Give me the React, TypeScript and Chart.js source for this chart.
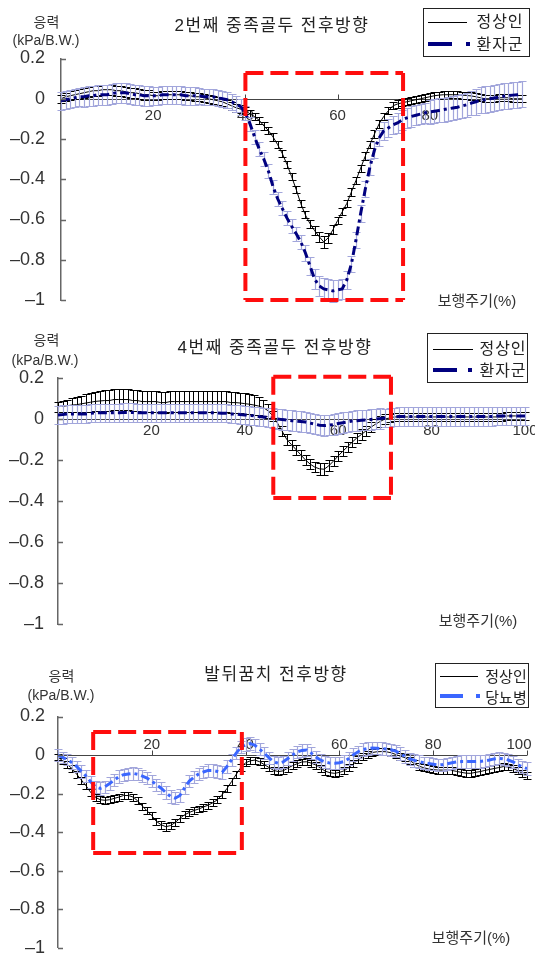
import React, { useEffect, useRef } from 'react';
import { Chart, registerables } from 'chart.js';

Chart.register(...registerables);

const FONT = '"Liberation Sans", "Noto Sans CJK KR", Arial, sans-serif';
const CANVAS_H = 340;

// ---------- shared axis data ----------
const gaitCycle = Array.from({ length: 101 }, (_, i) => i); // 0..100 %
const yTickValues = [-1, -0.8, -0.6, -0.4, -0.2, 0, 0.2];
const yTickLabels = ['–1', '–0.8', '–0.6', '–0.4', '–0.2', '0', '0.2'];
const xTickValues = [20, 40, 60, 80, 100];
const xTickLabels1 = ['20', '40', '60', '80', ''];
const xTickLabels2 = ['20', '40', '60', '80', '100'];
const xTickLabels3 = ['20', '40', '60', '80', '100'];

// ---------- chart 1 : 2번째 중족골두 ----------
const normal1 = [
  0.000, 0.010, 0.015, 0.020, 0.025, 0.030, 0.035, 0.040, 0.040, 0.045,
  0.045, 0.045, 0.040, 0.040, 0.035, 0.030, 0.030, 0.025, 0.020, 0.020,
  0.015, 0.015, 0.020, 0.020, 0.020, 0.020, 0.020, 0.015, 0.015, 0.010,
  0.010, 0.005, 0.000, -0.005, -0.010, -0.015, -0.025, -0.035, -0.045, -0.052,
  -0.060, -0.075, -0.089, -0.107, -0.135, -0.158, -0.190, -0.228, -0.272, -0.325,
  -0.385, -0.450, -0.520, -0.577, -0.620, -0.655, -0.685, -0.712, -0.690, -0.650,
  -0.605, -0.562, -0.520, -0.463, -0.405, -0.345, -0.285, -0.228, -0.175, -0.125,
  -0.088, -0.060, -0.035, -0.026, -0.020, -0.015, -0.010, -0.005, 0.000, 0.005,
  0.010, 0.015, 0.018, 0.020, 0.020, 0.020, 0.020, 0.018, 0.016, 0.014,
  0.010, 0.005, 0.000, 0.000, 0.000, 0.005, 0.005, 0.005, 0.000, 0.000,
  0.000,
];
const normalSd1 = [
  0.020, 0.020, 0.022, 0.022, 0.025, 0.025, 0.025, 0.025, 0.025, 0.025,
  0.025, 0.025, 0.025, 0.025, 0.025, 0.025, 0.025, 0.025, 0.025, 0.025,
  0.020, 0.020, 0.020, 0.020, 0.020, 0.020, 0.020, 0.020, 0.020, 0.020,
  0.020, 0.020, 0.020, 0.020, 0.020, 0.020, 0.020, 0.020, 0.020, 0.020,
  0.018, 0.018, 0.018, 0.018, 0.018, 0.018, 0.018, 0.018, 0.018, 0.018,
  0.018, 0.018, 0.018, 0.018, 0.020, 0.022, 0.025, 0.028, 0.025, 0.022,
  0.018, 0.018, 0.018, 0.018, 0.018, 0.018, 0.018, 0.018, 0.018, 0.018,
  0.018, 0.018, 0.018, 0.018, 0.018, 0.018, 0.018, 0.018, 0.018, 0.018,
  0.018, 0.018, 0.018, 0.018, 0.018, 0.018, 0.018, 0.018, 0.018, 0.018,
  0.018, 0.018, 0.018, 0.018, 0.018, 0.018, 0.018, 0.018, 0.018, 0.018,
  0.018,
];
const patient1 = [
  -0.010, -0.005, 0.000, 0.005, 0.010, 0.010, 0.015, 0.015, 0.020, 0.020,
  0.020, 0.025, 0.030, 0.030, 0.030, 0.025, 0.020, 0.020, 0.015, 0.015,
  0.015, 0.015, 0.020, 0.020, 0.020, 0.020, 0.020, 0.015, 0.015, 0.015,
  0.015, 0.010, 0.010, 0.010, 0.005, 0.000, -0.005, -0.015, -0.025, -0.040,
  -0.070, -0.125, -0.190, -0.250, -0.300, -0.360, -0.437, -0.497, -0.545, -0.592,
  -0.632, -0.670, -0.710, -0.765, -0.830, -0.895, -0.930, -0.945, -0.950, -0.955,
  -0.950, -0.945, -0.900, -0.820, -0.700, -0.570, -0.450, -0.340, -0.255, -0.195,
  -0.160, -0.145, -0.130, -0.120, -0.105, -0.095, -0.088, -0.082, -0.076, -0.070,
  -0.066, -0.062, -0.058, -0.054, -0.050, -0.046, -0.042, -0.036, -0.030, -0.022,
  -0.015, -0.008, -0.004, 0.000, 0.004, 0.008, 0.012, 0.015, 0.018, 0.020,
  0.022,
];
const patientSd1 = [
  0.045, 0.045, 0.045, 0.045, 0.045, 0.050, 0.050, 0.050, 0.050, 0.050,
  0.050, 0.050, 0.050, 0.050, 0.050, 0.050, 0.050, 0.050, 0.050, 0.050,
  0.045, 0.045, 0.045, 0.045, 0.045, 0.045, 0.045, 0.045, 0.045, 0.045,
  0.040, 0.040, 0.040, 0.040, 0.040, 0.040, 0.040, 0.040, 0.040, 0.040,
  0.035, 0.035, 0.035, 0.035, 0.035, 0.035, 0.035, 0.035, 0.035, 0.035,
  0.035, 0.035, 0.035, 0.040, 0.045, 0.050, 0.050, 0.055, 0.055, 0.055,
  0.050, 0.050, 0.045, 0.040, 0.040, 0.040, 0.040, 0.040, 0.040, 0.040,
  0.045, 0.045, 0.045, 0.050, 0.050, 0.050, 0.050, 0.050, 0.050, 0.050,
  0.060, 0.060, 0.060, 0.060, 0.060, 0.060, 0.060, 0.060, 0.060, 0.060,
  0.065, 0.065, 0.065, 0.065, 0.065, 0.065, 0.065, 0.065, 0.065, 0.065,
  0.065,
];
const box1 = [40, 74.2, 0.128, -1.0]; // x from, x to, y top, y bottom

// ---------- chart 2 : 4번째 중족골두 ----------
const normal2 = [
  0.060, 0.062, 0.065, 0.068, 0.070, 0.074, 0.078, 0.082, 0.086, 0.088,
  0.090, 0.090, 0.095, 0.095, 0.095, 0.095, 0.090, 0.090, 0.085, 0.085,
  0.085, 0.085, 0.080, 0.080, 0.085, 0.085, 0.085, 0.085, 0.085, 0.085,
  0.085, 0.085, 0.085, 0.085, 0.085, 0.085, 0.085, 0.080, 0.080, 0.078,
  0.075, 0.072, 0.068, 0.063, 0.055, 0.040, 0.015, -0.020, -0.060, -0.100,
  -0.125, -0.150, -0.175, -0.200, -0.220, -0.235, -0.243, -0.245, -0.228, -0.205,
  -0.180, -0.157, -0.135, -0.113, -0.092, -0.075, -0.057, -0.040, -0.025, -0.012,
  0.000, 0.005, 0.010, 0.010, 0.010, 0.010, 0.010, 0.010, 0.010, 0.010,
  0.010, 0.010, 0.010, 0.010, 0.010, 0.010, 0.010, 0.010, 0.010, 0.010,
  0.010, 0.010, 0.010, 0.010, 0.010, 0.010, 0.015, 0.015, 0.015, 0.015,
  0.015,
];
const normalSd2 = [
  0.025, 0.028, 0.030, 0.033, 0.036, 0.040, 0.043, 0.046, 0.048, 0.050,
  0.050, 0.050, 0.050, 0.050, 0.050, 0.050, 0.050, 0.050, 0.050, 0.050,
  0.050, 0.050, 0.050, 0.050, 0.050, 0.050, 0.050, 0.050, 0.050, 0.050,
  0.050, 0.050, 0.050, 0.050, 0.050, 0.050, 0.050, 0.050, 0.050, 0.050,
  0.050, 0.050, 0.048, 0.045, 0.040, 0.035, 0.025, 0.025, 0.025, 0.025,
  0.025, 0.025, 0.025, 0.025, 0.025, 0.025, 0.028, 0.030, 0.028, 0.025,
  0.025, 0.025, 0.025, 0.025, 0.025, 0.025, 0.025, 0.025, 0.025, 0.025,
  0.022, 0.020, 0.020, 0.020, 0.020, 0.020, 0.020, 0.020, 0.020, 0.020,
  0.020, 0.020, 0.020, 0.020, 0.020, 0.020, 0.020, 0.020, 0.020, 0.020,
  0.020, 0.020, 0.020, 0.020, 0.020, 0.020, 0.020, 0.020, 0.020, 0.020,
  0.020,
];
const patient2 = [
  0.020, 0.022, 0.025, 0.025, 0.025, 0.025, 0.025, 0.028, 0.030, 0.030,
  0.030, 0.030, 0.030, 0.030, 0.032, 0.032, 0.032, 0.030, 0.030, 0.030,
  0.030, 0.030, 0.030, 0.030, 0.030, 0.030, 0.030, 0.030, 0.030, 0.030,
  0.030, 0.030, 0.030, 0.030, 0.030, 0.028, 0.028, 0.025, 0.025, 0.022,
  0.020, 0.018, 0.015, 0.012, 0.010, 0.008, 0.005, 0.000, -0.003, -0.005,
  -0.008, -0.010, -0.012, -0.015, -0.020, -0.025, -0.030, -0.032, -0.030, -0.027,
  -0.022, -0.018, -0.014, -0.010, -0.008, -0.006, -0.004, -0.002, 0.000, 0.002,
  0.005, 0.008, 0.010, 0.012, 0.012, 0.012, 0.012, 0.012, 0.012, 0.012,
  0.012, 0.012, 0.012, 0.012, 0.012, 0.012, 0.012, 0.012, 0.012, 0.012,
  0.012, 0.012, 0.012, 0.012, 0.015, 0.015, 0.015, 0.015, 0.015, 0.015,
  0.015,
];
const patientSd2 = [
  0.045, 0.045, 0.045, 0.045, 0.045, 0.045, 0.045, 0.045, 0.045, 0.045,
  0.045, 0.045, 0.045, 0.045, 0.045, 0.045, 0.045, 0.045, 0.045, 0.045,
  0.045, 0.045, 0.045, 0.045, 0.045, 0.045, 0.045, 0.045, 0.045, 0.045,
  0.045, 0.045, 0.045, 0.045, 0.045, 0.045, 0.045, 0.045, 0.045, 0.045,
  0.045, 0.045, 0.045, 0.045, 0.045, 0.045, 0.050, 0.050, 0.050, 0.050,
  0.050, 0.050, 0.050, 0.050, 0.050, 0.050, 0.050, 0.050, 0.050, 0.050,
  0.050, 0.050, 0.050, 0.050, 0.050, 0.050, 0.050, 0.050, 0.050, 0.050,
  0.045, 0.045, 0.045, 0.045, 0.045, 0.045, 0.045, 0.045, 0.045, 0.045,
  0.045, 0.045, 0.045, 0.045, 0.045, 0.045, 0.045, 0.045, 0.045, 0.045,
  0.045, 0.045, 0.045, 0.045, 0.045, 0.045, 0.045, 0.045, 0.045, 0.045,
  0.045,
];
const box2 = [46.1, 71.3, 0.206, -0.385];

// ---------- chart 3 : 발뒤꿈치 ----------
const normal3 = [
  -0.010, -0.030, -0.050, -0.070, -0.100, -0.130, -0.160, -0.195, -0.220, -0.232,
  -0.235, -0.232, -0.225, -0.218, -0.210, -0.210, -0.218, -0.238, -0.265, -0.290,
  -0.315, -0.345, -0.362, -0.372, -0.366, -0.350, -0.328, -0.310, -0.298, -0.288,
  -0.280, -0.270, -0.260, -0.248, -0.232, -0.205, -0.175, -0.138, -0.100, -0.065,
  -0.040, -0.030, -0.026, -0.035, -0.050, -0.065, -0.080, -0.086, -0.082, -0.068,
  -0.055, -0.045, -0.036, -0.035, -0.042, -0.052, -0.068, -0.084, -0.092, -0.095,
  -0.090, -0.082, -0.065, -0.045, -0.025, -0.008, 0.005, 0.013, 0.017, 0.018,
  0.017, 0.012, 0.003, -0.006, -0.014, -0.028, -0.045, -0.058, -0.066, -0.072,
  -0.076, -0.078, -0.078, -0.078, -0.080, -0.085, -0.090, -0.094, -0.095, -0.090,
  -0.086, -0.080, -0.075, -0.070, -0.065, -0.060, -0.062, -0.070, -0.080, -0.095,
  -0.105,
];
const normalSd3 = [
  0.015, 0.015, 0.018, 0.018, 0.018, 0.018, 0.018, 0.018, 0.018, 0.018,
  0.018, 0.018, 0.018, 0.018, 0.018, 0.018, 0.018, 0.018, 0.018, 0.018,
  0.018, 0.018, 0.020, 0.020, 0.020, 0.020, 0.018, 0.018, 0.018, 0.018,
  0.018, 0.018, 0.018, 0.018, 0.018, 0.018, 0.018, 0.018, 0.018, 0.018,
  0.018, 0.018, 0.018, 0.018, 0.018, 0.018, 0.018, 0.018, 0.018, 0.018,
  0.018, 0.018, 0.018, 0.018, 0.018, 0.018, 0.018, 0.018, 0.018, 0.018,
  0.018, 0.018, 0.018, 0.018, 0.018, 0.018, 0.018, 0.018, 0.018, 0.018,
  0.018, 0.018, 0.018, 0.018, 0.018, 0.018, 0.018, 0.018, 0.018, 0.018,
  0.018, 0.018, 0.018, 0.018, 0.018, 0.018, 0.018, 0.018, 0.018, 0.018,
  0.018, 0.018, 0.018, 0.018, 0.018, 0.018, 0.018, 0.018, 0.018, 0.018,
  0.018,
];
const patient3 = [
  0.000, -0.012, -0.024, -0.040, -0.060, -0.085, -0.110, -0.140, -0.165, -0.173,
  -0.165, -0.148, -0.130, -0.112, -0.102, -0.098, -0.095, -0.100, -0.110, -0.120,
  -0.135, -0.155, -0.172, -0.195, -0.215, -0.224, -0.210, -0.170, -0.135, -0.115,
  -0.098, -0.088, -0.080, -0.080, -0.085, -0.090, -0.060, -0.025, 0.010, 0.040,
  0.055, 0.060, 0.050, 0.030, 0.010, -0.015, -0.035, -0.043, -0.036, -0.018,
  0.000, 0.017, 0.024, 0.026, 0.010, -0.010, -0.027, -0.037, -0.042, -0.043,
  -0.040, -0.034, -0.018, 0.002, 0.017, 0.028, 0.034, 0.036, 0.035, 0.034,
  0.031, 0.027, 0.020, 0.008, -0.008, -0.020, -0.028, -0.034, -0.040, -0.044,
  -0.048, -0.052, -0.050, -0.045, -0.040, -0.036, -0.034, -0.034, -0.034, -0.034,
  -0.033, -0.030, -0.026, -0.020, -0.017, -0.020, -0.026, -0.035, -0.050, -0.062,
  -0.070,
];
const patientSd3 = [
  0.030, 0.030, 0.030, 0.030, 0.030, 0.032, 0.032, 0.032, 0.032, 0.032,
  0.032, 0.032, 0.032, 0.032, 0.032, 0.032, 0.032, 0.032, 0.032, 0.032,
  0.032, 0.032, 0.032, 0.032, 0.032, 0.032, 0.032, 0.032, 0.032, 0.032,
  0.032, 0.032, 0.032, 0.032, 0.032, 0.032, 0.032, 0.032, 0.032, 0.032,
  0.032, 0.032, 0.032, 0.032, 0.032, 0.032, 0.032, 0.032, 0.032, 0.032,
  0.032, 0.032, 0.032, 0.032, 0.032, 0.032, 0.032, 0.032, 0.032, 0.032,
  0.032, 0.032, 0.032, 0.032, 0.032, 0.032, 0.032, 0.032, 0.032, 0.032,
  0.032, 0.032, 0.032, 0.032, 0.032, 0.032, 0.032, 0.032, 0.032, 0.032,
  0.032, 0.032, 0.032, 0.032, 0.032, 0.032, 0.032, 0.032, 0.032, 0.032,
  0.032, 0.032, 0.032, 0.032, 0.032, 0.032, 0.032, 0.032, 0.032, 0.032,
  0.032,
];
const box3 = [7.5, 39.2, 0.119, -0.509];

const NAVY = '#00007f';
const BRIGHT_BLUE = '#3a66ff';
const LAVENDER = '#a2a6db';

type PanelCfg = {
  top: number;
  left: number;
  right: number;
  areaTop: number;
  areaBottom: number;
  labelPad: number;
  xLabels: string[];
  xLabelOffset: number;
  lastLabelDx: number;
  normal: number[];
  normalSd: number[];
  patient: number[];
  patientSd: number[];
  patientColor: string;
  box: number[];
};

function Panel({ cfg }: { cfg: PanelCfg }) {
  const ref = useRef<HTMLCanvasElement>(null);
  useEffect(() => {
    const canvas = ref.current as HTMLCanvasElement;

    const errorBars = {
      id: 'errorBars',
      beforeDatasetDraw(chart: any, args: any) {
        const ds: any = chart.data.datasets[args.index];
        if (!ds.sd) return;
        const { ctx } = chart;
        const xs = chart.scales.x;
        const ys = chart.scales.y;
        ctx.save();
        ctx.strokeStyle = ds.barColor;
        ctx.lineWidth = ds.barWidth;
        ctx.setLineDash([]);
        ctx.beginPath();
        ds.values.forEach((v: number, i: number) => {
          const px = Math.round(xs.getPixelForValue(gaitCycle[i])) + 0.5;
          const t = Math.round(ys.getPixelForValue(v + ds.sd[i])) + 0.5;
          const b = Math.round(ys.getPixelForValue(v - ds.sd[i])) + 0.5;
          ctx.moveTo(px, t);
          ctx.lineTo(px, b);
          ctx.moveTo(px - 4, t);
          ctx.lineTo(px + 4, t);
          ctx.moveTo(px - 4, b);
          ctx.lineTo(px + 4, b);
        });
        ctx.stroke();
        ctx.restore();
      },
    };

    const zeroAxis = {
      id: 'zeroAxis',
      beforeDatasetsDraw(chart: any) {
        const { ctx } = chart;
        const xs = chart.scales.x;
        const ys = chart.scales.y;
        const y0 = Math.round(ys.getPixelForValue(0)) + 0.5;
        ctx.save();
        ctx.strokeStyle = '#444';
        ctx.lineWidth = 1;
        ctx.beginPath();
        ctx.moveTo(xs.getPixelForValue(0), y0);
        ctx.lineTo(xs.getPixelForValue(100), y0);
        xTickValues.forEach((v) => {
          const px = Math.round(xs.getPixelForValue(v)) + 0.5;
          ctx.moveTo(px, y0);
          ctx.lineTo(px, y0 - 5);
        });
        ctx.stroke();
        ctx.fillStyle = '#333';
        ctx.font = `15px ${FONT}`;
        ctx.textAlign = 'center';
        ctx.textBaseline = 'middle';
        xTickValues.forEach((v, i) => {
          const lab = cfg.xLabels[i];
          const dx = i === xTickValues.length - 1 ? cfg.lastLabelDx : 0;
          if (lab) ctx.fillText(lab, xs.getPixelForValue(v) + dx, y0 + cfg.xLabelOffset);
        });
        ctx.restore();
      },
      afterDraw(chart: any) {
        const { ctx } = chart;
        const ys = chart.scales.y;
        const left = chart.chartArea.left;
        ctx.save();
        ctx.strokeStyle = '#666';
        ctx.lineWidth = 1.5;
        ctx.beginPath();
        yTickValues.forEach((v) => {
          const py = Math.round(ys.getPixelForValue(v)) + 0.5;
          ctx.moveTo(left, py);
          ctx.lineTo(left + 5, py);
        });
        ctx.stroke();
        ctx.restore();
      },
    };

    const redBox = {
      id: 'redBox',
      afterDatasetsDraw(chart: any) {
        const { ctx } = chart;
        const xs = chart.scales.x;
        const ys = chart.scales.y;
        const [bx0, bx1, by0, by1] = cfg.box;
        const l = xs.getPixelForValue(bx0);
        const r = xs.getPixelForValue(bx1);
        const t = ys.getPixelForValue(by0);
        const b = ys.getPixelForValue(by1);
        ctx.save();
        ctx.strokeStyle = '#ff0d0d';
        ctx.lineWidth = 4;
        ctx.setLineDash([18, 7]);
        const seg = (x1: number, y1: number, x2: number, y2: number) => {
          ctx.beginPath();
          ctx.moveTo(x1, y1);
          ctx.lineTo(x2, y2);
          ctx.stroke();
        };
        seg(l, t, r, t);
        seg(r, t, r, b);
        seg(l, b, r, b);
        seg(l, t, l, b);
        ctx.restore();
      },
    };

    const chart = new Chart(canvas, {
      type: 'line',
      data: {
        datasets: [
          {
            label: 'patient',
            data: cfg.patient.map((v, i) => ({ x: gaitCycle[i], y: v })),
            borderColor: cfg.patientColor,
            borderWidth: 3,
            borderDash: [9, 4, 3, 4],
            pointRadius: 0,
            tension: 0,
            fill: false,
            values: cfg.patient,
            sd: cfg.patientSd,
            barColor: LAVENDER,
            barWidth: 1.2,
          } as any,
          {
            label: 'normal',
            data: cfg.normal.map((v, i) => ({ x: gaitCycle[i], y: v })),
            borderColor: '#000',
            borderWidth: 1,
            pointRadius: 0,
            tension: 0,
            fill: false,
            values: cfg.normal,
            sd: cfg.normalSd,
            barColor: '#000',
            barWidth: 1,
          } as any,
        ],
      },
      options: {
        animation: false,
        responsive: false,
        devicePixelRatio: 1,
        layout: {
          padding: {
            left: 0,
            right: 535 - cfg.right,
            top: cfg.areaTop,
            bottom: CANVAS_H - cfg.areaBottom,
          },
        },
        plugins: {
          legend: { display: false },
          tooltip: { enabled: false },
        },
        scales: {
          x: { type: 'linear', min: 0, max: 100, display: false },
          y: {
            min: -1,
            max: 0.2,
            afterFit: (s: any) => {
              s.width = cfg.left;
            },
            afterBuildTicks: (s: any) => {
              s.ticks = yTickValues.map((v) => ({ value: v }));
            },
            ticks: {
              callback: (_v: any, i: number) => yTickLabels[i],
              color: '#333',
              font: { family: FONT, size: 18 },
              padding: cfg.labelPad,
            },
            grid: { display: false, drawTicks: false },
            border: { display: true, color: '#666', width: 1.5 },
          },
        },
      } as any,
      plugins: [errorBars, zeroAxis, redBox],
    });
    return () => chart.destroy();
  }, []);
  return (
    <canvas
      ref={ref}
      width={535}
      height={CANVAS_H}
      style={{ position: 'absolute', left: 0, top: cfg.top, width: 535, height: CANVAS_H }}
    />
  );
}

function Txt({ x, y, size, children, color = '#222', spacing = 0 }: any) {
  return (
    <div
      style={{
        position: 'absolute',
        left: x,
        top: y,
        transform: 'translate(-50%, -50%)',
        whiteSpace: 'nowrap',
        fontFamily: FONT,
        fontSize: size,
        letterSpacing: spacing,
        color,
        lineHeight: 1,
      }}
    >
      {children}
    </div>
  );
}

function Legend({ box, lineX, lineW, dashW, dotX, rowY, textX, size, spacing, color, labels }: any) {
  const [bl, bt, bw, bh] = box;
  return (
    <>
      <div
        style={{
          position: 'absolute',
          left: bl,
          top: bt,
          width: bw,
          height: bh,
          border: '1px solid #222',
          boxSizing: 'border-box',
          background: '#fff',
        }}
      />
      <div style={{ position: 'absolute', left: lineX, top: rowY[0], width: lineW, height: 1, background: '#000' }} />
      <div style={{ position: 'absolute', left: lineX, top: rowY[1] - 2, width: dashW, height: 4, background: color }} />
      <div style={{ position: 'absolute', left: dotX, top: rowY[1] - 2, width: 4, height: 4, background: color }} />
      <Txt x={textX} y={rowY[0]} size={size} spacing={spacing}>{labels[0]}</Txt>
      <Txt x={textX} y={rowY[1] + 1} size={size} spacing={spacing}>{labels[1]}</Txt>
    </>
  );
}

const panel1: PanelCfg = {
  top: 0, left: 61, right: 522, areaTop: 58.5, areaBottom: 300, labelPad: 16,
  xLabels: xTickLabels1, xLabelOffset: 16, lastLabelDx: 0,
  normal: normal1, normalSd: normalSd1, patient: patient1, patientSd: patientSd1,
  patientColor: NAVY, box: box1,
};
const panel2: PanelCfg = {
  top: 320, left: 58, right: 525, areaTop: 58, areaBottom: 304, labelPad: 14,
  xLabels: xTickLabels2, xLabelOffset: 11, lastLabelDx: 0,
  normal: normal2, normalSd: normalSd2, patient: patient2, patientSd: patientSd2,
  patientColor: NAVY, box: box2,
};
const panel3: PanelCfg = {
  top: 640, left: 58, right: 527, areaTop: 76.5, areaBottom: 307.7, labelPad: 13,
  xLabels: xTickLabels3, xLabelOffset: -11, lastLabelDx: -8,
  normal: normal3, normalSd: normalSd3, patient: patient3, patientSd: patientSd3,
  patientColor: BRIGHT_BLUE, box: box3,
};

export default function App() {
  return (
    <div
      style={{
        position: 'absolute',
        left: 0,
        top: 0,
        width: 535,
        height: 960,
        overflow: 'hidden',
        background: '#fff',
      }}
    >
      <Panel cfg={panel1} />
      <Panel cfg={panel2} />
      <Panel cfg={panel3} />

      {/* chart 1 texts */}
      <Txt x={272} y={25} size={17} spacing={1.5}>2번째 중족골두 전후방향</Txt>
      <Txt x={46.5} y={21.5} size={14} color="#333">응력</Txt>
      <Txt x={46} y={40} size={14} color="#333">(kPa/B.W.)</Txt>
      <Txt x={477} y={300} size={15} color="#333">보행주기(%)</Txt>
      <Legend
        box={[423, 8, 107, 49]} lineX={428} lineW={39} dashW={24} dotX={466}
        rowY={[22, 44]} textX={500} size={16} spacing={1} color={NAVY} labels={['정상인', '환자군']}
      />

      {/* chart 2 texts */}
      <Txt x={275} y={347} size={17} spacing={1.5}>4번째 중족골두 전후방향</Txt>
      <Txt x={46.5} y={340} size={14} color="#333">응력</Txt>
      <Txt x={45} y={360} size={14} color="#333">(kPa/B.W.)</Txt>
      <Txt x={478} y={620} size={15} color="#333">보행주기(%)</Txt>
      <Legend
        box={[427, 333, 101, 50]} lineX={433} lineW={40} dashW={24} dotX={468}
        rowY={[349, 370]} textX={503} size={16} spacing={1} color={NAVY} labels={['정상인', '환자군']}
      />

      {/* chart 3 texts */}
      <Txt x={276} y={674} size={17} spacing={1.5}>발뒤꿈치 전후방향</Txt>
      <Txt x={61.5} y={676} size={14} color="#333">응력</Txt>
      <Txt x={61} y={695} size={14} color="#333">(kPa/B.W.)</Txt>
      <Txt x={471} y={937} size={15} color="#333">보행주기(%)</Txt>
      <Legend
        box={[435, 663, 94, 45]} lineX={440} lineW={38} dashW={23} dotX={476}
        rowY={[676, 696]} textX={506} size={15} spacing={0} color={BRIGHT_BLUE} labels={['정상인', '당뇨병']}
      />
    </div>
  );
}
